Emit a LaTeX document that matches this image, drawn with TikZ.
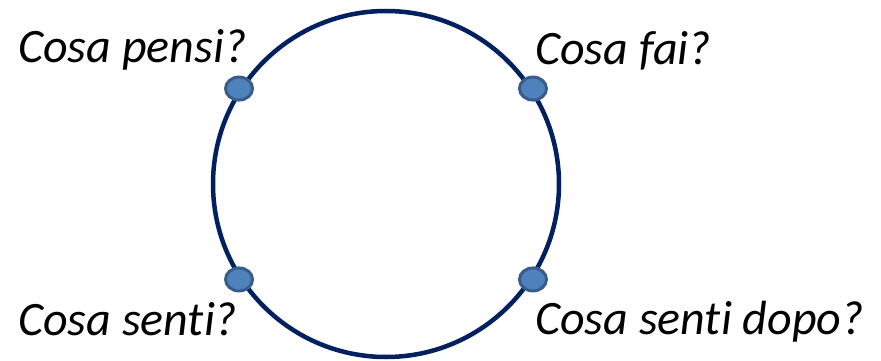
\documentclass[tikz,border=0pt]{standalone}
\usepackage{fontspec}
\setmainfont[RawFeature=-liga]{Carlito}
\usepackage{tikz}
\usetikzlibrary{positioning,shapes.geometric}
\definecolor{ringblue}{HTML}{002060}
\definecolor{dotfill}{HTML}{4F81BD}
\definecolor{dotline}{HTML}{385D8A}
\begin{document}
\begin{tikzpicture}[x=1pt,y=-1pt,font=\fontsize{48}{56}\selectfont\itshape,
  dot/.style={ellipse,draw=dotline,fill=dotfill,line width=3pt,minimum width=27pt,minimum height=23pt,inner sep=0pt},
  lbl/.style={anchor=base west,inner sep=0pt}]
\useasboundingbox (0,0) rectangle (881,361);
\node[circle,draw=ringblue,line width=4.5pt,minimum size=346pt,inner sep=0pt] (ring) at (386,184) {};
\node[dot] (pensi) at (ring.147) {}; \node[dot] (fai) at (ring.33) {};
\node[dot] (senti) at (ring.213) {}; \node[dot] (dopo) at (ring.327) {};
\node[lbl] (qpensi) at (18,63) {Cosa pensi?};
\node[lbl] (qfai) at (535,65) {Cosa fai?};
\node[lbl] (qsenti) at (18,335) {Cosa senti?};
\node[lbl] (qdopo) at (535,334) {Cosa senti dopo?};
\end{tikzpicture}
\end{document}
